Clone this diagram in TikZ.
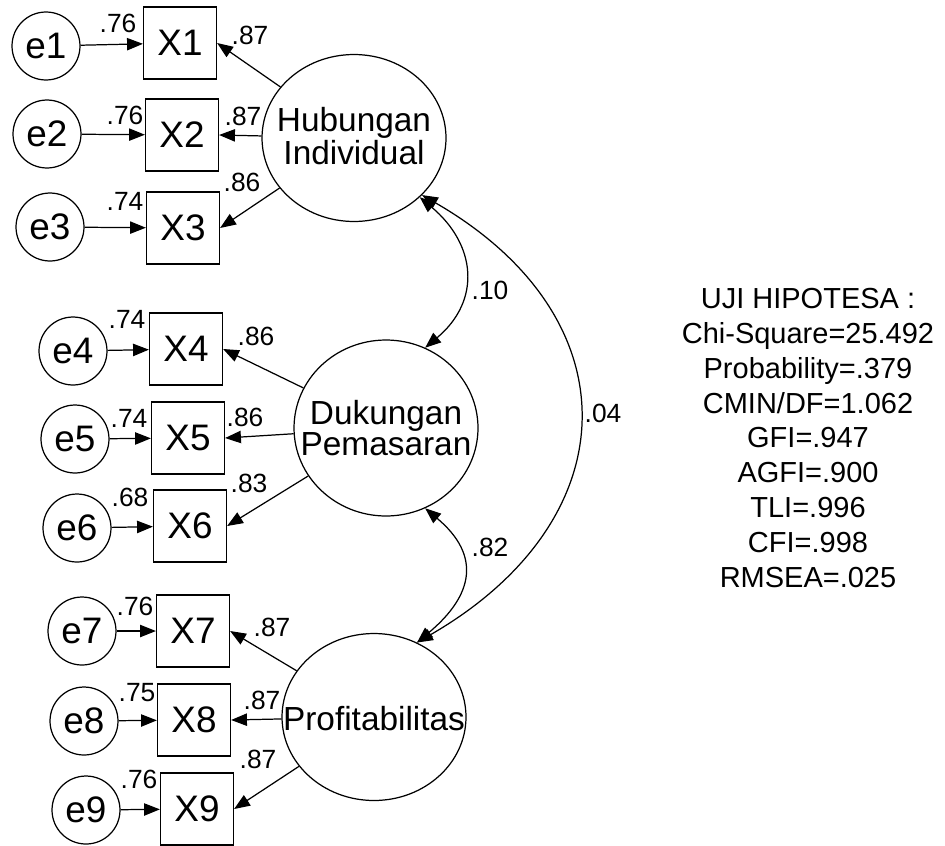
\documentclass[tikz,border=0pt]{standalone}
\usepackage{fontspec}
\setmainfont{Liberation Sans}
\usetikzlibrary{shapes.geometric,arrows.meta}

\begin{document}
\begin{tikzpicture}[x=0.02cm,y=-0.02cm,line width=0.7pt,
    >={Triangle[length=9pt,width=7pt]},
    errvar/.style={draw, circle, minimum size=1.36cm, inner sep=0pt, font=\fontsize{21}{23}\selectfont},
    indic/.style={draw, rectangle, minimum width=1.46cm, minimum height=1.44cm, inner sep=0pt, font=\fontsize{21}{23}\selectfont},
    latent/.style={draw, ellipse, minimum width=3.68cm, minimum height=3.34cm, inner sep=0pt},
    latname/.style={align=center, inner sep=0pt, font=\fontsize{19}{17}\selectfont},
    coef/.style={inner sep=0pt, font=\fontsize{15}{17}\selectfont}]
  \useasboundingbox (0,0) rectangle (945,845);
  % latent variables
  \node[latent] (HI) at (354,138) {};
  \node[latname] (HItext) at (354,136) {Hubungan\\Individual};
  \node[latent, minimum height=3.52cm] (DP) at (386,428) {};
  \node[latname] (DPtext) at (386,428) {Dukungan\\Pemasaran};
  \node[latent] (PR) at (374,717) {};
  \node[latname] (PRtext) at (374,719) {Profitabilitas};
  % indicators
  \node[indic] (X1) at (180,43) {X1};
  \node[indic] (X2) at (182,135) {X2};
  \node[indic] (X3) at (183,228) {X3};
  \node[indic] (X4) at (186,349) {X4};
  \node[indic] (X5) at (188,438) {X5};
  \node[indic] (X6) at (190,526) {X6};
  \node[indic] (X7) at (193,631) {X7};
  \node[indic] (X8) at (194,720) {X8};
  \node[indic] (X9) at (197,809) {X9};
  % error terms
  \node[errvar] (e1) at (46,46) {e1};
  \node[errvar] (e2) at (47,134) {e2};
  \node[errvar] (e3) at (50,227) {e3};
  \node[errvar] (e4) at (73,351) {e4};
  \node[errvar] (e5) at (75,439) {e5};
  \node[errvar] (e6) at (77,528) {e6};
  \node[errvar] (e7) at (82,631) {e7};
  \node[errvar] (e8) at (84,721) {e8};
  \node[errvar] (e9) at (86,810) {e9};
  % error paths
  \draw[->] (e1) -- (X1);
  \draw[->] (e2) -- (X2);
  \draw[->] (e3) -- (X3);
  \draw[->] (e4) -- (X4);
  \draw[->] (e5) -- (X5);
  \draw[->] (e6) -- (X6);
  \draw[->] (e7) -- (X7);
  \draw[->] (e8) -- (X8);
  \draw[->] (e9) -- (X9);
  % loadings
  \draw[->] (HI) -- (X1.east);
  \draw[->] (HI) -- (X2.east);
  \draw[->] (HI) -- (X3.east);
  \draw[->] (DP) -- (X4.east);
  \draw[->] (DP) -- (X5.east);
  \draw[->] (DP) -- (X6.east);
  \draw[->] (PR) -- (X7.east);
  \draw[->] (PR) -- (X8.east);
  \draw[->] (PR) -- (X9.east);
  % covariances
  \draw[<->] (HI.-42) to[out=-40, in=40, looseness=1.25] (DP.64);
  \draw[<->] (HI.-40) to[out=-30, in=30, looseness=1.4] (PR.60);
  \draw[<->] (DP.-64) to[out=-40, in=40, looseness=1.4] (PR.60);
  % coefficients
  \node[coef] (r1) at (118,23) {.76};
  \node[coef] (l1) at (250,35) {.87};
  \node[coef] (r2) at (125,115) {.76};
  \node[coef] (l2) at (243,116) {.87};
  \node[coef] (r3) at (125,201) {.74};
  \node[coef] (l3) at (242,182) {.86};
  \node[coef] (r4) at (127,319) {.74};
  \node[coef] (l4) at (256,336) {.86};
  \node[coef] (r5) at (129,418) {.74};
  \node[coef] (l5) at (245,417) {.86};
  \node[coef] (r6) at (130,497) {.68};
  \node[coef] (l6) at (249,483) {.83};
  \node[coef] (r7) at (135,606) {.76};
  \node[coef] (l7) at (272,627) {.87};
  \node[coef] (r8) at (137,693) {.75};
  \node[coef] (l8) at (262,700) {.87};
  \node[coef] (r9) at (139,779) {.76};
  \node[coef] (l9) at (258,759) {.87};
  \node[coef] (c1) at (490,290) {.10};
  \node[coef] (c2) at (603,413) {.04};
  \node[coef] (c3) at (490,547) {.82};
  % fit summary
  \node[align=center, inner sep=0pt, font=\fontsize{16.5}{19.8}\selectfont] (fit) at (808,438)
    {UJI HIPOTESA :\\Chi-Square=25.492\\Probability=.379\\CMIN/DF=1.062\\GFI=.947\\AGFI=.900\\TLI=.996\\CFI=.998\\RMSEA=.025};
\end{tikzpicture}
\end{document}
